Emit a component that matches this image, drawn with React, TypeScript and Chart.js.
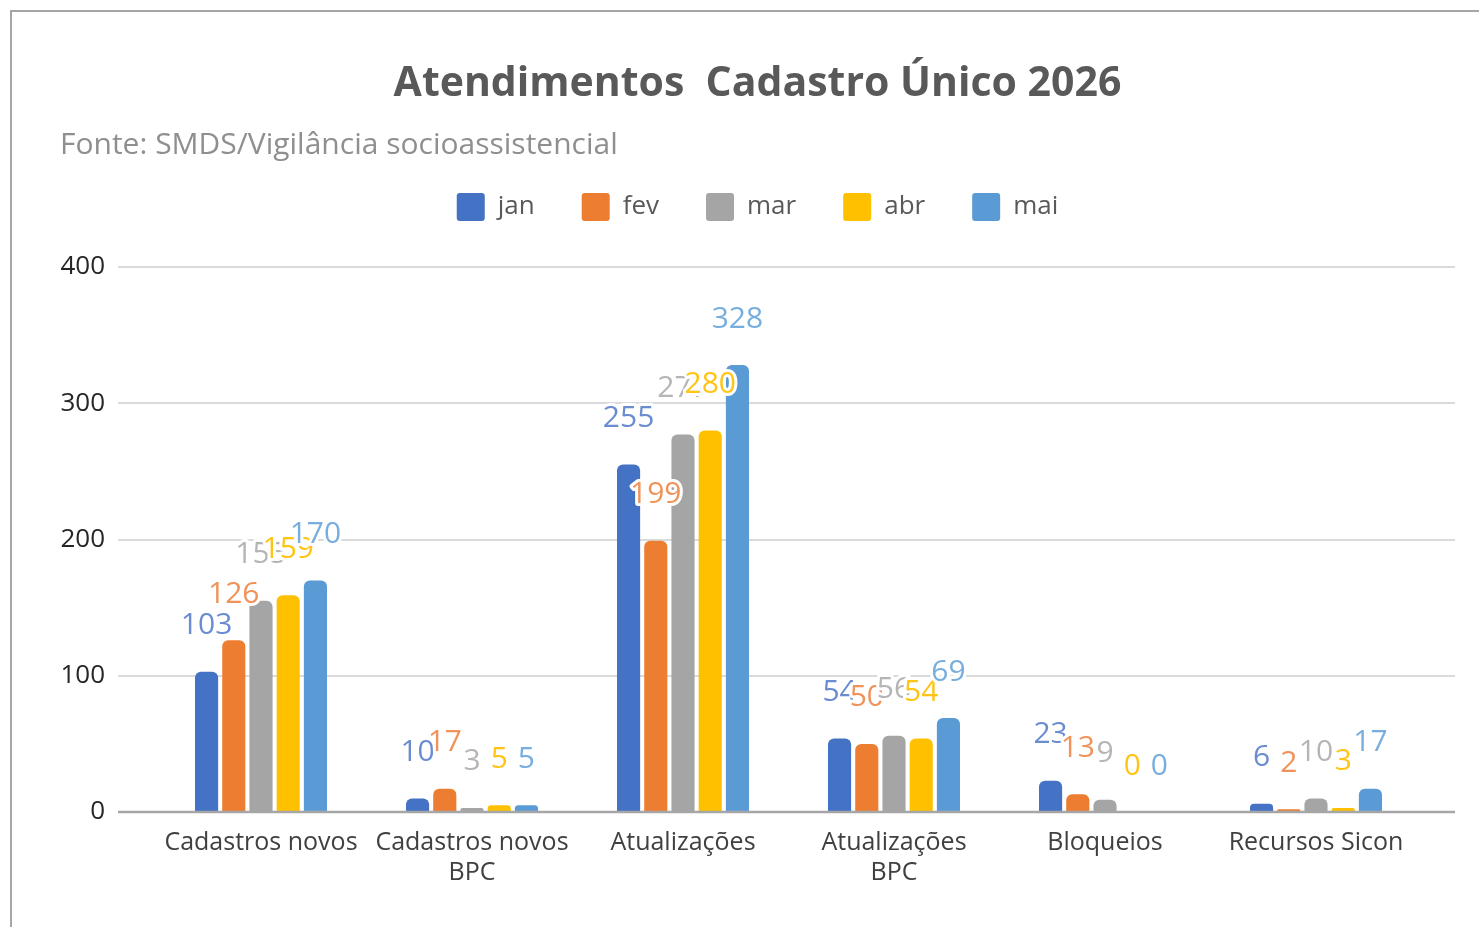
import React, { useEffect, useRef } from 'react';
import { Chart, registerables } from 'chart.js';

Chart.register(...registerables);

const categories: (string | string[])[] = [
  'Cadastros novos',
  ['Cadastros novos', 'BPC'],
  'Atualizações',
  ['Atualizações', 'BPC'],
  'Bloqueios',
  'Recursos Sicon',
];
const seriesNames = ['jan', 'fev', 'mar', 'abr', 'mai'];
const jan = [103, 10, 255, 54, 23, 6];
const fev = [126, 17, 199, 50, 13, 2];
const mar = [155, 3, 277, 56, 9, 10];
const abr = [159, 5, 280, 54, 0, 3];
const mai = [170, 5, 328, 69, 0, 17];
const yMin = 0;
const yMax = 400;
const yStep = 100;

const barColors = ['#4472C4', '#ED7D31', '#A5A5A5', '#FFC000', '#5B9BD5'];
const labelColors = ['#6a8cd0', '#ef935a', '#b5b5b5', '#ffc414', '#78aede'];
const FAMILY = '"Open Sans", sans-serif';

const gridPlugin = {
  id: 'gridPlugin',
  beforeDatasetsDraw(chart: any) {
    const { ctx, chartArea, scales } = chart;
    const y = scales.y;
    const left = chartArea.left - 37.5;
    const right = chartArea.right + 33.5;
    ctx.save();
    y.ticks.forEach((t: any) => {
      if (t.value === 0) return;
      const py = Math.round(y.getPixelForValue(t.value));
      ctx.strokeStyle = '#dadada';
      ctx.lineWidth = 2;
      ctx.beginPath();
      ctx.moveTo(left, py);
      ctx.lineTo(right, py);
      ctx.stroke();
    });
    ctx.restore();
  },
  afterDatasetsDraw(chart: any) {
    const { ctx, chartArea, scales } = chart;
    const y = scales.y;
    const left = chartArea.left - 37.5;
    const right = chartArea.right + 33.5;
    const py = Math.round(y.getPixelForValue(0));
    ctx.save();
    ctx.strokeStyle = '#a6a6a6';
    ctx.lineWidth = 2.5;
    ctx.beginPath();
    ctx.moveTo(left, py);
    ctx.lineTo(right, py);
    ctx.stroke();
    ctx.restore();
  },
};

const valueLabels = {
  id: 'valueLabels',
  afterDatasetsDraw(chart: any) {
    const ctx = chart.ctx;
    ctx.save();
    ctx.font = '30px ' + FAMILY;
    ctx.textAlign = 'center';
    ctx.textBaseline = 'middle';
    ctx.lineJoin = 'round';
    chart.data.datasets.forEach((ds: any, di: number) => {
      const meta = chart.getDatasetMeta(di);
      meta.data.forEach((bar: any, i: number) => {
        const txt = String(ds.data[i]);
        const x = bar.x;
        const y = bar.y - 46;
        ctx.strokeStyle = '#ffffff';
        ctx.lineWidth = 6;
        ctx.strokeText(txt, x, y);
        ctx.fillStyle = labelColors[di];
        ctx.fillText(txt, x, y);
      });
    });
    ctx.restore();
  },
};

const legendSpacer = {
  id: 'legendSpacer',
  beforeLayout(chart: any) {
    const lg = chart.legend;
    if (lg && !lg._spacerPatched) {
      const orig = lg.fit.bind(lg);
      lg.fit = function () {
        orig();
        this.height += 36;
      };
      lg._spacerPatched = true;
    }
  },
};

export default function App() {
  const ref = useRef<HTMLCanvasElement>(null);
  useEffect(() => {
    Chart.defaults.font.family = FAMILY;
    const series = [jan, fev, mar, abr, mai];
    const chart = new Chart(ref.current!, {
      type: 'bar',
      data: {
        labels: categories as any,
        datasets: series.map((d, i) => ({
          label: seriesNames[i],
          data: d,
          backgroundColor: barColors[i],
          borderWidth: 0,
          borderRadius: { topLeft: 6, topRight: 6, bottomLeft: 0, bottomRight: 0 },
          borderSkipped: false,
          categoryPercentage: 0.645,
          barPercentage: 0.85,
          yAxisID: 'y',
        })),
      },
      options: {
        responsive: false,
        animation: false,
        layout: { padding: { left: 60, right: 24, top: 0, bottom: 0 } },
        plugins: {
          title: {
            display: true,
            text: 'Atendimentos  Cadastro Único 2026',
            color: '#595959',
            font: { size: 41, weight: 'bold', family: FAMILY, lineHeight: 1.2 },
            padding: { top: 59.4, bottom: 35.4 },
          },
          subtitle: {
            display: true,
            text: 'Fonte: SMDS/Vigilância socioassistencial',
            align: 'start',
            color: '#8f8f8f',
            font: { size: 30, lineHeight: 0.0667, family: FAMILY },
            padding: { top: 0, bottom: 0 },
          },
          legend: {
            display: true,
            position: 'top',
            labels: {
              boxWidth: 28,
              boxHeight: 28,
              padding: 47,
              color: '#595959',
              font: { size: 26, family: FAMILY },
              useBorderRadius: true,
              borderRadius: 3,
            },
          },
          tooltip: { enabled: false },
        },
        scales: {
          x: {
            grid: { display: false, drawTicks: false },
            border: { display: false },
            ticks: {
              padding: 16,
              color: '#404040',
              font: { size: 25, family: FAMILY, lineHeight: 1.2 },
              maxRotation: 0,
              autoSkip: false,
            },
            afterFit: (s: any) => {
              s.height = 115;
            },
          },
          y: {
            min: yMin,
            max: yMax,
            grid: { display: false, drawTicks: false },
            border: { display: false },
            ticks: {
              stepSize: yStep,
              padding: 50.5,
              color: '#262626',
              font: { size: 26, family: FAMILY },
            },
            afterFit: (s: any) => {
              s.width = 95.5;
            },
          },
          y2: {
            position: 'right',
            display: true,
            min: 0,
            max: 1,
            grid: { display: false, drawTicks: false },
            border: { display: false },
            ticks: { display: false },
            afterFit: (s: any) => {
              s.width = 33.5;
            },
          },
        },
      },
      plugins: [legendSpacer, gridPlugin, valueLabels],
    } as any);
    return () => chart.destroy();
  }, []);

  return (
    <div
      style={{
        position: 'fixed',
        left: 0,
        top: 0,
        width: 1479,
        height: 927,
        background: '#ffffff',
        overflow: 'hidden',
      }}
    >
      <div
        style={{
          position: 'absolute',
          left: 10,
          top: 10,
          width: 1540,
          height: 980,
          border: '2px solid #a6a6a6',
          boxSizing: 'border-box',
        }}
      />
      <canvas
        ref={ref}
        width={1479}
        height={927}
        style={{ position: 'absolute', left: 0, top: 0, width: 1479, height: 927 }}
      />
    </div>
  );
}
